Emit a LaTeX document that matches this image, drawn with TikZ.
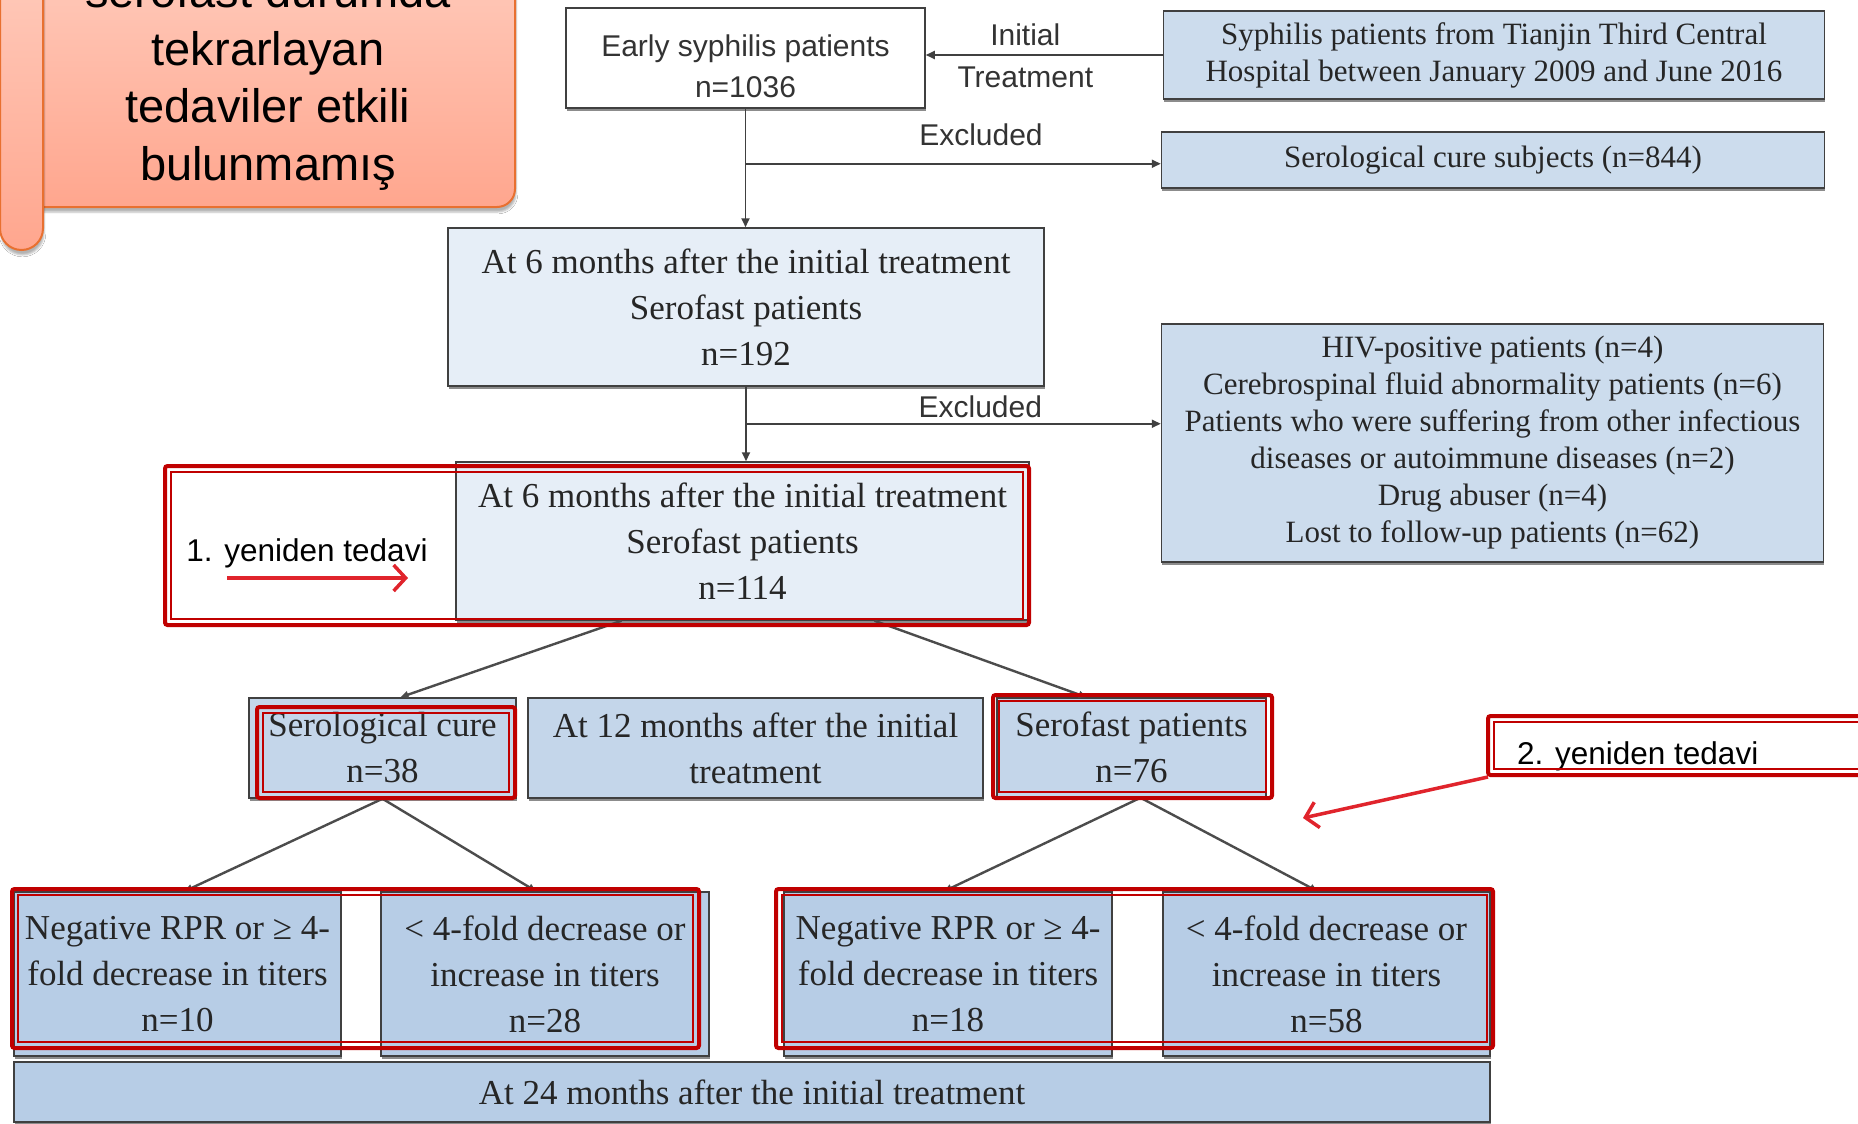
\documentclass[tikz,border=0pt]{standalone}
\usepackage{fontspec}
\setmainfont{Liberation Serif}
\setsansfont{Liberation Sans}
\usetikzlibrary{arrows.meta,calc,positioning,shadows,shadows.blur}
\definecolor{palebox}{RGB}{230,238,247}
\definecolor{bluebox}{RGB}{204,220,237}
\definecolor{midbox}{RGB}{196,214,234}
\definecolor{deepbox}{RGB}{183,205,230}
\definecolor{hired}{RGB}{192,0,0}
\definecolor{arrowred}{RGB}{224,36,44}
\definecolor{scrolltop}{RGB}{255,208,194}
\definecolor{scrollbot}{RGB}{255,166,142}
\definecolor{scrolledge}{RGB}{232,112,48}

\tikzset{
  conn/.style={draw=black!75, line width=1.8pt, -{Triangle[length=9pt,width=8pt]}},
  twig/.style={draw=black!70, line width=2.4pt, -{Triangle[length=8pt,width=7pt]}},
  flowbox/.style={draw=black!75, line width=1.5pt, inner sep=0pt, align=center, text=black!85,
    font=\fontsize{35}{46}\selectfont,
    drop shadow={shadow xshift=.5pt, shadow yshift=-2.5pt, fill=black, opacity=.45}},
  smallbox/.style={flowbox, font=\fontsize{31}{37}\selectfont},
  sanslbl/.style={inner sep=0pt, text=black!80, font=\sffamily\fontsize{30}{41}\selectfont},
  notelbl/.style={inner sep=0pt, font=\sffamily\fontsize{31.5}{38}\selectfont},
  scrolltxt/.style={inner sep=0pt, align=center, font=\sffamily\fontsize{47}{57.5}\selectfont},
  frameout/.style={draw=hired, line width=4pt, rounded corners=2.5pt},
  framein/.style={draw=hired, line width=1.2pt},
  redarrow/.style={draw=arrowred, line width=3.5pt, -{Straight Barb[length=12pt,width=26pt]}},
  scroll/.style={draw=scrolledge, line width=2pt, top color=scrolltop, bottom color=scrollbot,
    blur shadow={shadow xshift=1pt, shadow yshift=-5pt, shadow opacity=30}}
}
% double red frame: outer thick line, thin line inside
\newcommand{\hiframe}[4]{%
  \draw[frameout] (#1,#2) rectangle (#3,#4);
  \draw[framein] (#1+6,#2+6) rectangle (#3-6,#4-6);}

\begin{document}
\begin{tikzpicture}[x=1pt,y=-1pt]
  \useasboundingbox (0,0) rectangle (1858,1124);
  \fill[white] (0,0) rectangle (1858,1124);

  % scroll note, top left
  \draw[scroll, rounded corners=18pt] (20,-80) -- (20,207) -- (515,207) -- (515,-80);
  \draw[scroll, rounded corners=21.5pt] (0,-80) -- (0,250) -- (43,250) -- (43,-80);
  \node[scrolltxt] (scrollnote) at (268,82) {serofast durumda\\tekrarlayan\\tedaviler etkili\\bulunmamış};

  % boxes
  \node[flowbox, fill=white, minimum width=359pt, minimum height=100pt] (early) at (745.5,58) {};
  \node[sanslbl, align=center] (earlytxt) at ([yshift=-8pt]early.center) {Early syphilis patients\\n=1036};
  \node[smallbox, fill=bluebox, minimum width=661pt, minimum height=88pt] (syph) at (1494,55)
    {Syphilis patients from Tianjin Third Central\\Hospital between January 2009 and June 2016};
  \node[smallbox, fill=bluebox, minimum width=663pt, minimum height=56pt] (cure844) at (1493,160)
    {Serological cure subjects (n=844)};
  \node[flowbox, fill=palebox, minimum width=596pt, minimum height=158pt] (sixA) at (746,307)
    {At 6 months after the initial treatment\\Serofast patients\\n=192};
  \node[smallbox, fill=bluebox, minimum width=662pt, minimum height=238pt] (excl) at (1492.5,443)
    {HIV-positive patients (n=4)\\Cerebrospinal fluid abnormality patients (n=6)\\
     Patients who were suffering from other infectious\\diseases or autoimmune diseases (n=2)\\
     Drug abuser (n=4)\\Lost to follow-up patients (n=62)};
  \node[flowbox, fill=palebox, minimum width=573pt, minimum height=158pt] (sixB) at (742.5,541)
    {At 6 months after the initial treatment\\Serofast patients\\n=114};
  \node[notelbl] (note1) at (307,553) {1. yeniden tedavi};

  \node[flowbox, fill=midbox, minimum width=267pt, minimum height=100pt] (cure38) at (382.5,748)
    {Serological cure\\n=38};
  \node[flowbox, fill=midbox, minimum width=455pt, minimum height=100pt] (twelve) at (755.5,748)
    {At 12 months after the initial\\treatment};
  \node[flowbox, fill=midbox, minimum width=269pt, minimum height=99pt] (fast76) at (1131.5,747.5)
    {Serofast patients\\n=76};
  \node[notelbl, anchor=west] (note2) at (1517,756) {2. yeniden tedavi};

  \node[flowbox, fill=deepbox, minimum width=327pt, minimum height=164pt] (negA) at (177.5,974)
    {Negative RPR or ≥ 4-\\fold decrease in titers\\n=10};
  \node[flowbox, fill=deepbox, minimum width=328pt, minimum height=164pt] (lowA) at (545,974)
    {< 4-fold decrease or\\increase in titers\\n=28};
  \node[flowbox, fill=deepbox, minimum width=328pt, minimum height=164pt] (negB) at (948,974)
    {Negative RPR or ≥ 4-\\fold decrease in titers\\n=18};
  \node[flowbox, fill=deepbox, minimum width=327pt, minimum height=164pt] (lowB) at (1326.5,974)
    {< 4-fold decrease or\\increase in titers\\n=58};
  \node[flowbox, fill=deepbox, minimum width=1476pt, minimum height=60pt] (month24) at (752,1092)
    {At 24 months after the initial treatment};

  % connectors
  \draw[conn] (syph.west) -- (syph.west -| early.east)
    node[pos=.58, above=8pt, sanslbl] (initlbl) {Initial}
    node[pos=.58, below=11pt, sanslbl] (treatlbl) {Treatment};
  \draw[conn] (early.south) -- (early.south |- sixA.north);
  \coordinate (ex1) at ($(early.south)+(0,55)$);
  \draw[conn] (ex1) -- (ex1 -| cure844.west) node[pos=.567, above=17pt, sanslbl] (exlbl1) {Excluded};
  \draw[conn] (sixA.south) -- (sixA.south |- sixB.north);
  \coordinate (ex2) at ($(sixA.south)+(0,37)$);
  \draw[conn] (ex2) -- (ex2 -| excl.west) node[pos=.565, above=5pt, sanslbl] (exlbl2) {Excluded};

  \draw[twig] ([xshift=-121pt]sixB.south) -- ([xshift=18pt]cure38.north);
  \draw[twig] ([xshift=132pt]sixB.south) -- ([xshift=-45pt]fast76.north);
  \draw[twig] (cure38.south) -- ([xshift=7pt]negA.north);
  \draw[twig] (cure38.south) -- ([xshift=-9pt]lowA.north);
  \draw[twig] ([xshift=9pt]fast76.south) -- ([xshift=-4pt]negB.north);
  \draw[twig] ([xshift=9pt]fast76.south) -- ([xshift=-9pt]lowB.north);

  % red highlights
  \hiframe{165}{466}{1029}{625}
  \hiframe{257}{707}{515}{798}
  \hiframe{993}{695}{1272}{798}
  \hiframe{12}{889}{699}{1048}
  \hiframe{776}{889}{1493}{1048}
  \hiframe{1488}{716}{1880}{775}
  \coordinate (r1a) at (227,578);
  \coordinate (r1b) at (408,578);
  \draw[redarrow] (r1a) -- (r1b);
  \coordinate (r2a) at (1488,777);
  \coordinate (r2b) at (1303,818);
  \draw[redarrow] (r2a) -- (r2b);
\end{tikzpicture}
\end{document}
